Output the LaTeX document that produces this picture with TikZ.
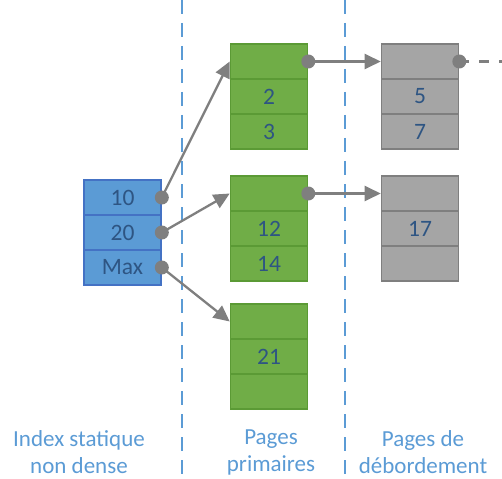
\documentclass[tikz,border=0pt]{standalone}
\usepackage{fontspec}
\setmainfont{Carlito}
\usetikzlibrary{arrows.meta}

\definecolor{idxfill}{HTML}{5B9BD5}
\definecolor{idxline}{HTML}{4472C4}
\definecolor{primfill}{HTML}{70AD47}
\definecolor{primline}{HTML}{5B9A35}
\definecolor{ovfill}{HTML}{A5A5A5}
\definecolor{ovline}{HTML}{7F7F7F}
\definecolor{keytext}{HTML}{2E5583}
\definecolor{linkgray}{HTML}{7F7F7F}

\tikzset{
    cell/.style={minimum width=77pt, minimum height=35pt, inner sep=0pt,
        line width=1.6pt, text=keytext, font=\fontsize{23.5}{26}\selectfont},
    idx/.style={cell, fill=idxfill, draw=idxline},
    prim/.style={cell, fill=primfill, draw=primline},
    over/.style={cell, fill=ovfill, draw=ovline},
    link/.style={linkgray, line width=2.3pt, -{Triangle[length=16pt,width=15pt]}},
    dot/.style={fill=linkgray},
    sep/.style={idxfill, line width=2pt, dash pattern=on 14pt off 9pt},
    caption/.style={text=idxfill, align=center, inner sep=0pt,
        font=\fontsize{23}{27}\selectfont}
}

\begin{document}
\begin{tikzpicture}[x=1pt, y=-1pt]
    \useasboundingbox (0,0) rectangle (502,478);

    % separators
    \draw[sep] (182,0) -- (182,478);
    \draw[sep] (345,0) -- (345,478);

    % index
    \node[idx] (i1) at (122.5,197.5) {10};
    \node[idx] (i2) at (122.5,232.5) {20};
    \node[idx] (i3) at (122.5,267.5) {Max};

    % primary pages
    \foreach \b/\y/\u/\v in {1/61.5/2/3, 2/193.5/12/14, 3/321.5/21/} {
        \node[prim] (p\b a) at (269,\y) {};
        \node[prim] (p\b b) at (269,\y+35) {\u};
        \node[prim] (p\b c) at (269,\y+70) {\v};
    }

    % overflow pages
    \foreach \b/\y/\u/\v in {1/61.5/5/7, 2/193.5/17/} {
        \node[over] (o\b a) at (420,\y) {};
        \node[over] (o\b b) at (420,\y+35) {\u};
        \node[over] (o\b c) at (420,\y+70) {\v};
    }

    % pointers
    \draw[link] (i1.east) -- (p1a.west);
    \draw[link] (i2.east) -- (p2a.west);
    \draw[link] (i3.east) -- (p3a.west);
    \draw[link] (p1a.east) -- (o1a.west);
    \draw[link] (p2a.east) -- (o2a.west);
    \coordinate (next) at (502,61.5);
    \draw[linkgray, line width=2.3pt, dash pattern=on 10pt off 10pt] (o1a.east) -- (next);
    \foreach \n in {i1,i2,i3,p1a,p2a,o1a}
        \fill[dot] (\n.east) circle (7pt);

    % captions
    \node[caption] (c1) at (79,452) {Index statique\\non dense};
    \node[caption] (c2) at (271,452) {Pages\\primaires};
    \node[caption] (c3) at (423,452) {Pages de\\débordement};
\end{tikzpicture}
\end{document}
